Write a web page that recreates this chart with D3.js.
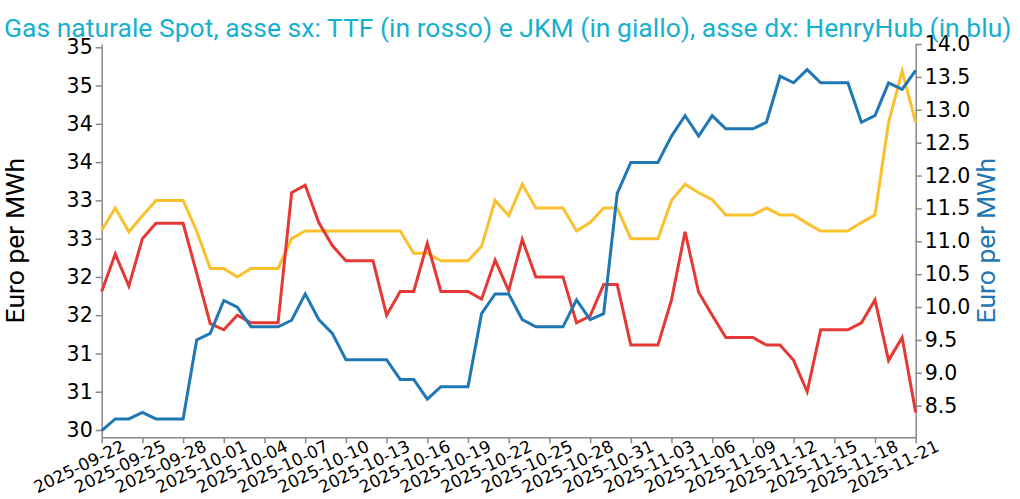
<!DOCTYPE html>
<html>
<head>
<meta charset="utf-8">
<script src="https://cdn.jsdelivr.net/npm/d3@7"></script>
<style>
  html, body { margin: 0; padding: 0; background: #fff; }
  svg { display: block; }
</style>
</head>
<body>
<svg id="chart" width="1020" height="499"></svg>
<script>
const titleText = "Gas naturale Spot, asse sx: TTF (in rosso) e JKM (in giallo), asse dx: HenryHub (in blu)";
const leftAxisTitle = "Euro per MWh";
const rightAxisTitle = "Euro per MWh";

const dates = [
  "2025-09-22","2025-09-23","2025-09-24","2025-09-25","2025-09-26","2025-09-27","2025-09-28","2025-09-29","2025-09-30",
  "2025-10-01","2025-10-02","2025-10-03","2025-10-04","2025-10-05","2025-10-06","2025-10-07","2025-10-08","2025-10-09","2025-10-10",
  "2025-10-11","2025-10-12","2025-10-13","2025-10-14","2025-10-15","2025-10-16","2025-10-17","2025-10-18","2025-10-19","2025-10-20",
  "2025-10-21","2025-10-22","2025-10-23","2025-10-24","2025-10-25","2025-10-26","2025-10-27","2025-10-28","2025-10-29","2025-10-30","2025-10-31",
  "2025-11-01","2025-11-02","2025-11-03","2025-11-04","2025-11-05","2025-11-06","2025-11-07","2025-11-08","2025-11-09","2025-11-10",
  "2025-11-11","2025-11-12","2025-11-13","2025-11-14","2025-11-15","2025-11-16","2025-11-17","2025-11-18","2025-11-19","2025-11-20","2025-11-21"
];

// TTF (left axis, red)
const ttf = [
  31.81, 32.30, 31.88, 32.50, 32.70, 32.70, 32.70, 32.05, 31.39, 31.31,
  31.50, 31.40, 31.40, 31.40, 33.10, 33.20, 32.71, 32.41, 32.21, 32.21,
  32.21, 31.50, 31.81, 31.81, 32.44, 31.81, 31.81, 31.81, 31.71, 32.22,
  31.82, 32.49, 32.00, 32.00, 32.00, 31.40, 31.49, 31.90, 31.90, 31.11,
  31.11, 31.11, 31.70, 32.59, 31.80, 31.50, 31.21, 31.21, 31.21, 31.11,
  31.11, 30.91, 30.50, 31.31, 31.31, 31.31, 31.40, 31.70, 30.91, 31.21,
  30.23
];

// JKM (left axis, yellow)
const jkm = [
  32.61, 32.90, 32.59, 32.80, 33.00, 33.00, 33.00, 32.60, 32.11, 32.11,
  32.00, 32.11, 32.11, 32.11, 32.50, 32.60, 32.60, 32.60, 32.60, 32.60,
  32.60, 32.60, 32.60, 32.31, 32.31, 32.21, 32.21, 32.21, 32.40, 33.00,
  32.80, 33.21, 32.90, 32.90, 32.90, 32.60, 32.71, 32.90, 32.90, 32.50,
  32.50, 32.50, 33.00, 33.21, 33.10, 33.01, 32.81, 32.81, 32.81, 32.90,
  32.81, 32.81, 32.70, 32.60, 32.60, 32.60, 32.71, 32.81, 34.02, 34.69,
  34.02
];

// Henry Hub (right axis, blue)
const henryHub = [
  8.12, 8.30, 8.30, 8.40, 8.30, 8.30, 8.30, 9.50, 9.60, 10.10,
  10.00, 9.70, 9.70, 9.70, 9.80, 10.20, 9.81, 9.60, 9.20, 9.20,
  9.20, 9.20, 8.90, 8.90, 8.60, 8.79, 8.79, 8.79, 9.90, 10.20,
  10.20, 9.81, 9.70, 9.70, 9.70, 10.11, 9.81, 9.90, 11.73, 12.20,
  12.20, 12.20, 12.60, 12.91, 12.60, 12.91, 12.71, 12.71, 12.71, 12.81,
  13.51, 13.41, 13.61, 13.41, 13.41, 13.41, 12.81, 12.91, 13.41, 13.31,
  13.60
];

const xTickLabels = [
  "2025-09-22","2025-09-25","2025-09-28","2025-10-01","2025-10-04","2025-10-07","2025-10-10",
  "2025-10-13","2025-10-16","2025-10-19","2025-10-22","2025-10-25","2025-10-28","2025-10-31",
  "2025-11-03","2025-11-06","2025-11-09","2025-11-12","2025-11-15","2025-11-18","2025-11-21"
];
const leftTicks = [30, 30.5, 31, 31.5, 32, 32.5, 33, 33.5, 34, 34.5, 35];
const rightTicks = [8.5, 9, 9.5, 10, 10.5, 11, 11.5, 12, 12.5, 13, 13.5, 14];
const leftDomain = [29.905, 35.043];
const rightDomain = [8.02, 14.0];

const W = 1020, H = 499;
const margin = { top: 44, right: 104.3, bottom: 61.7, left: 101.7 };
const svg = d3.select("#chart");
const parse = d3.timeParse("%Y-%m-%d");
const fmt = d3.timeFormat("%Y-%m-%d");

const x = d3.scaleTime()
  .domain([parse(dates[0]), parse(dates[dates.length - 1])])
  .range([margin.left, W - margin.right]);
const yL = d3.scaleLinear().domain(leftDomain).range([H - margin.bottom, margin.top]);
const yR = d3.scaleLinear().domain(rightDomain).range([H - margin.bottom, margin.top]);

const axisColor = "#888";
const tickFont = "'DejaVu Sans', sans-serif";

// X axis
const gx = svg.append("g")
  .attr("transform", `translate(0,${H - margin.bottom})`)
  .call(d3.axisBottom(x).tickValues(xTickLabels.map(parse)).tickFormat(fmt).tickSize(6).tickSizeOuter(0));
gx.selectAll("text")
  .attr("x", 0).attr("y", 0).attr("dy", 0)
  .attr("transform", "translate(24,13) rotate(-26)")
  .style("text-anchor", "end")
  .attr("fill", "#000")
  .style("font-family", tickFont)
  .style("font-size", "17px");

// Left axis
const gl = svg.append("g")
  .attr("transform", `translate(${margin.left},0)`)
  .call(d3.axisLeft(yL).tickValues(leftTicks).tickFormat(d3.format(".0f")).tickSize(6).tickSizeOuter(0).tickPadding(3));
gl.selectAll("text").attr("fill", "#000").style("font-family", tickFont).style("font-size", "20.5px");

// Right axis
const gr = svg.append("g")
  .attr("transform", `translate(${W - margin.right},0)`)
  .call(d3.axisRight(yR).tickValues(rightTicks).tickFormat(d3.format(".1f")).tickSize(6).tickSizeOuter(0).tickPadding(3));
gr.selectAll("text").attr("fill", "#000").style("font-family", tickFont).style("font-size", "20.5px");

[gx, gl, gr].forEach(g => {
  g.select(".domain").attr("stroke", axisColor).attr("stroke-width", 1.5);
  g.selectAll(".tick line").attr("stroke", axisColor).attr("stroke-width", 1.5);
});

// Lines
const series = [
  { values: jkm, scale: yL, color: "#fbc02d" },
  { values: ttf, scale: yL, color: "#e53935" },
  { values: henryHub, scale: yR, color: "#1f77b4" }
];
series.forEach(s => {
  const line = d3.line()
    .x((d, i) => x(parse(dates[i])))
    .y(d => s.scale(d));
  svg.append("path")
    .datum(s.values)
    .attr("fill", "none")
    .attr("stroke", s.color)
    .attr("stroke-width", 3)
    .attr("d", line);
});

// Title
svg.append("text")
  .attr("x", 4).attr("y", 36.5)
  .attr("fill", "#17b0cf")
  .style("font-family", "Roboto, sans-serif")
  .style("font-size", "26.5px")
  .text(titleText);

// Axis titles
svg.append("text")
  .attr("transform", `translate(24,${(margin.top + H - margin.bottom) / 2}) rotate(-90)`)
  .attr("text-anchor", "middle")
  .attr("fill", "#000")
  .style("font-family", "Roboto, sans-serif")
  .style("font-size", "26.5px")
  .text(leftAxisTitle);

svg.append("text")
  .attr("transform", `translate(995,${(margin.top + H - margin.bottom) / 2}) rotate(-90)`)
  .attr("text-anchor", "middle")
  .attr("fill", "#1f77b4")
  .style("font-family", "Roboto, sans-serif")
  .style("font-size", "26.5px")
  .text(rightAxisTitle);
</script>
</body>
</html>
